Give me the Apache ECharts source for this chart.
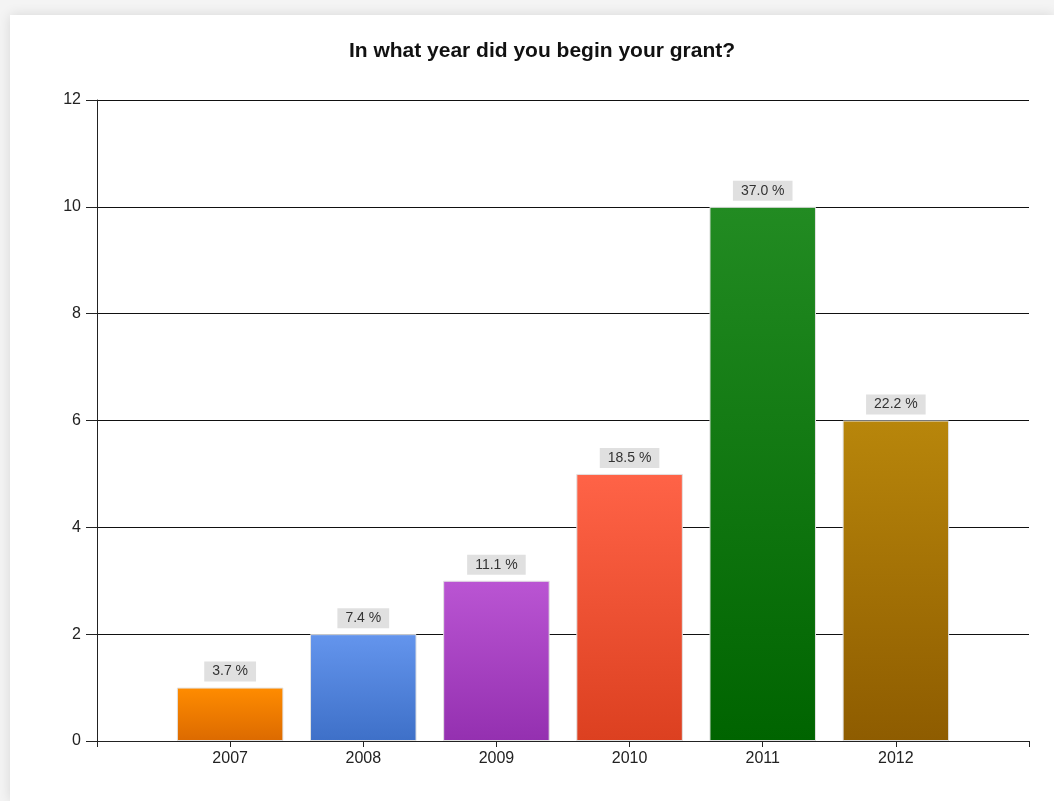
<!DOCTYPE html>
<html>
<head>
<meta charset="utf-8">
<script src="https://cdn.jsdelivr.net/npm/echarts@6/dist/echarts.min.js"></script>
<style>
  html, body { margin: 0; padding: 0; background: #f4f4f4; }
  #box { position: absolute; left: 10px; top: 15px; width: 1044px; height: 786px; background: #fff; box-shadow: 0 0 12px rgba(0,0,0,0.12); }
  #main { position: absolute; left: -10px; top: -15px; width: 1054px; height: 801px; }
</style>
</head>
<body>
<div id="box"><div id="main"></div></div>
<script>
// categories, empty slots at both ends keep the axis span of the original
var years = ['', '2007', '2008', '2009', '2010', '2011', '2012', ''];
var counts = ['-', 1, 2, 3, 5, 10, 6, '-'];
var percents = ['', '3.7 %', '7.4 %', '11.1 %', '18.5 %', '37.0 %', '22.2 %', ''];
var topColors = ['', '#ff8c00', '#6495ed', '#ba55d3', '#ff6347', '#228b22', '#b8860b', ''];
var bottomColors = ['', '#dc6a00', '#3e70c8', '#9430b0', '#dc4020', '#006400', '#8e5c00', ''];
var yTicks = [0, 2, 4, 6, 8, 10, 12];

var chart = echarts.init(document.getElementById('main'));

var barData = counts.map(function(v, i){
  if (v === '-') return '-';
  return {
    value: v,
    itemStyle: {
      color: new echarts.graphic.LinearGradient(0, 0, 0, 1, [
        {offset: 0, color: topColors[i]},
        {offset: 1, color: bottomColors[i]}
      ])
    }
  };
});

var option = {
  backgroundColor: 'transparent',
  animation: false,
  title: {
    text: 'In what year did you begin your grant?',
    left: 537,
    textAlign: 'center',
    top: 36,
    textStyle: {fontFamily: 'Liberation Sans', fontSize: 21, fontWeight: 'bold', color: '#111'}
  },
  grid: {left: 97, right: 25, top: 100, bottom: 60},
  xAxis: {
    type: 'category',
    data: years,
    boundaryGap: false,
    axisLine: {lineStyle: {color: '#222', width: 1}},
    axisTick: {show: true, length: 6, lineStyle: {color: '#222'}},
    axisLabel: {fontFamily: 'Liberation Sans', fontSize: 16, color: '#222', margin: 10, interval: 0},
    splitLine: {show: false}
  },
  yAxis: {
    type: 'value',
    min: yTicks[0],
    max: yTicks[yTicks.length - 1],
    interval: 2,
    axisLine: {show: true, lineStyle: {color: '#222', width: 1}},
    axisTick: {show: true, length: 11, lineStyle: {color: '#222'}},
    axisLabel: {fontFamily: 'Liberation Sans', fontSize: 16, color: '#222', margin: 16},
    splitLine: {show: true, lineStyle: {color: '#111', width: 1}}
  },
  series: [{
    type: 'bar',
    data: barData,
    barWidth: '80%',
    itemStyle: {borderColor: '#e2e2e2', borderWidth: 1},
    label: {
      show: true,
      position: 'top',
      distance: 6,
      formatter: function(p){ return percents[p.dataIndex]; },
      fontFamily: 'Liberation Sans',
      fontSize: 14,
      color: '#333',
      backgroundColor: '#e0e0e0',
      padding: [3, 8, 3, 8]
    }
  }]
};
chart.setOption(option);
</script>
</body>
</html>
